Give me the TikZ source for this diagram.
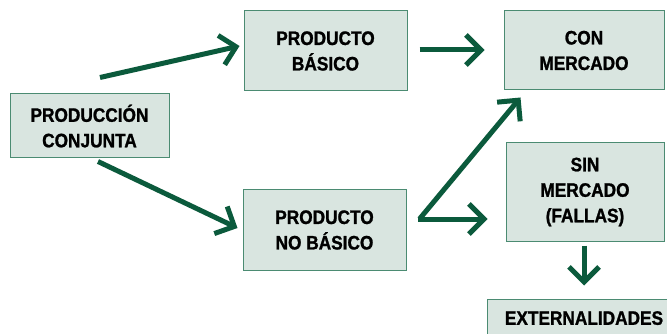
\documentclass[tikz,border=0pt]{standalone}
\usepackage{fontspec}
\setmainfont{Liberation Sans}[BoldFeatures={FakeBold=1.2,FakeStretch=0.885}]
\usetikzlibrary{arrows.meta,calc}
\definecolor{verdeosc}{HTML}{0B5A3C}
\definecolor{verdeclaro}{HTML}{D9E5E0}
\definecolor{borde}{HTML}{4B8B72}
\tikzset{
caja/.style={draw=borde,line width=1pt,fill=verdeclaro,align=center,inner sep=0pt,
  font=\bfseries\fontsize{19.5}{25.5}\selectfont},
flecha/.style={draw=verdeosc,line width=5pt,-{Straight Barb[length=15pt,width=30pt]}}
}
\begin{document}
\begin{tikzpicture}[x=1pt,y=-1pt]
\fill[white](0,0) rectangle (667,334);
\useasboundingbox (0,0) rectangle (667,334);
\node[caja,minimum width=159pt,minimum height=64pt](conj) at (89.5,126){PRODUCCIÓN\\CONJUNTA};
\node[caja,minimum width=163pt,minimum height=80pt](basico) at (325.5,51){PRODUCTO\\BÁSICO};
\node[caja,minimum width=163pt,minimum height=80pt](nobasico) at (324.5,230){PRODUCTO\\NO BÁSICO};
\node[caja,minimum width=160pt,minimum height=79pt](conmerc) at (584,50.5){CON\\MERCADO};
\node[caja,minimum width=158pt,minimum height=98pt](sinmerc) at (585,192){SIN\\MERCADO\\(FALLAS)};
\node[caja,minimum width=194pt,minimum height=38pt,text depth=0pt](ext) at (584,318){EXTERNALIDADES};
% flechas
\draw[flecha]($(conj.north)+(10.5,-16)$)--($(basico.west)+(-4,-5)$);
\draw[flecha]($(conj.south)+(8.5,3)$)--($(nobasico.west)+(-5,-2)$);
\draw[flecha]($(basico.east)+(12,-1)$)--($(conmerc.west)+(-19,-0.5)$);
\coordinate(ramal) at ($(nobasico.east)+(13,-11)$);
\draw[flecha,line join=round](ramal)--($(conmerc.south west)+(17,7)$);
\draw[flecha,line join=round]($(ramal)+(-1.5,0)$)--($(sinmerc.west)+(-18,27)$);
\draw[flecha]($(sinmerc.south)+(-1,4)$)--($(ext.north)+(0,-13)$);
\end{tikzpicture}
\end{document}
